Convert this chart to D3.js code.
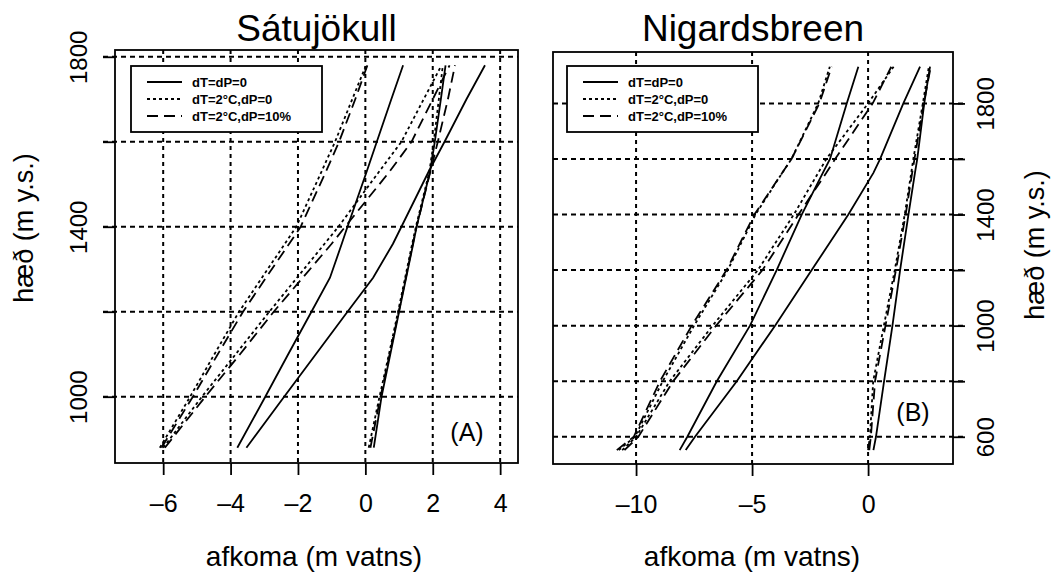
<!DOCTYPE html>
<html>
<head>
<meta charset="utf-8">
<script src="https://cdn.jsdelivr.net/npm/d3@7"></script>
<style>
  body { margin: 0; background: #fff; }
  #chart { width: 1063px; height: 572px; }
  text { font-family: "Liberation Sans", Arial, sans-serif; fill: #000; }
</style>
</head>
<body>
<div id="chart"></div>
<script>
// Legend labels (same for both panels)
const legendLabels = ["dT=dP=0", "dT=2°C,dP=0", "dT=2°C,dP=10%"];

// Sátujökull - elevation (m) and balance (m water)
const satElev    = [880, 1000, 1100, 1200, 1280, 1360, 1400, 1530, 1600, 1700, 1780];
const satSolid1  = [-3.80, -2.97, -2.29, -1.60, -1.05, -0.70, -0.53, 0.04, 0.34, 0.77, 1.12];
const satSolid2  = [-3.53, -2.41, -1.47, -0.53, 0.23, 0.82, 1.07, 1.88, 2.35, 3.00, 3.55];
const satSolid3  = [0.25, 0.48, 0.74, 1.00, 1.21, 1.42, 1.52, 1.92, 2.06, 2.24, 2.38];
const satDotted1 = [-6.10, -5.20, -4.48, -3.75, -3.07, -2.39, -2.05, -1.30, -0.90, -0.39, 0.02];
const satDotted2 = [-6.00, -4.85, -3.85, -2.85, -2.03, -1.21, -0.80, 0.41, 1.07, 1.73, 2.26];
const satDotted3 = [0.10, 0.42, 0.70, 0.97, 1.18, 1.39, 1.50, 1.90, 2.03, 2.18, 2.30];
const satDashed1 = [-6.05, -5.12, -4.38, -3.63, -2.95, -2.26, -1.92, -1.17, -0.78, -0.30, 0.06];
const satDashed2 = [-5.95, -4.75, -3.72, -2.72, -1.86, -1.00, -0.60, 0.72, 1.37, 2.00, 2.50];
const satDashed3 = [0.15, 0.45, 0.72, 0.99, 1.20, 1.41, 1.52, 1.93, 2.15, 2.45, 2.66];

// Nigardsbreen
const nigElev    = [552, 600, 800, 1000, 1200, 1400, 1550, 1600, 1800, 1932];
const nigSolid1  = [-8.12, -7.79, -6.52, -5.09, -3.94, -2.86, -1.95, -1.64, -0.92, -0.42];
const nigSolid2  = [-7.86, -7.46, -5.66, -4.01, -2.43, -0.85, 0.23, 0.52, 1.52, 2.24];
const nigSolid3  = [0.23, 0.34, 0.69, 1.05, 1.38, 1.74, 2.02, 2.12, 2.42, 2.67];
const nigDotted1 = [-10.75, -10.05, -8.85, -7.50, -6.05, -4.85, -3.70, -3.30, -2.15, -1.65];
const nigDotted2 = [-10.60, -10.00, -8.55, -6.70, -4.75, -3.20, -2.15, -1.80, 0.00, 1.10];
const nigDotted3 = [0.00, 0.08, 0.22, 0.68, 1.15, 1.58, 1.86, 1.95, 2.36, 2.62];
const nigDashed1 = [-10.83, -10.10, -8.97, -7.60, -6.10, -4.90, -3.70, -3.30, -2.10, -1.57];
const nigDashed2 = [-10.50, -9.90, -8.40, -6.55, -4.55, -3.00, -1.80, -1.42, 0.20, 1.00];
const nigDashed3 = [0.05, 0.12, 0.30, 0.75, 1.20, 1.62, 1.90, 2.00, 2.40, 2.70];

// Ticks
const satXTicks  = [-6, -4, -2, 0, 2, 4];
const satYTicks  = [1000, 1200, 1400, 1600, 1800];
const satYLabels = [1000, 1400, 1800];
const nigXTicks  = [-10, -5, 0];
const nigYTicks  = [600, 800, 1000, 1200, 1400, 1600, 1800];
const nigYLabels = [600, 1000, 1400, 1800];

const width = 1063;
const height = 572;

const svg = d3.select("#chart")
    .append("svg")
    .attr("width", width)
    .attr("height", height);

// line styles: solid / dotted / dashed
const dashes = [null, "3,3", "11,6"];

function drawPanel(p) {
    const xScale = d3.scaleLinear().domain(p.xDomain).range([p.box.x0, p.box.x1]);
    const yScale = d3.scaleLinear().domain(p.yDomain).range([p.box.y1, p.box.y0]);
    const tick = 12;

    // grid
    svg.append("g").selectAll("line")
        .data(p.xTicks)
        .join("line")
        .attr("x1", d => xScale(d)).attr("x2", d => xScale(d))
        .attr("y1", p.box.y0).attr("y2", p.box.y1)
        .attr("stroke", "#000").attr("stroke-width", 2)
        .attr("stroke-dasharray", "4,4");

    svg.append("g").selectAll("line")
        .data(p.yTicks)
        .join("line")
        .attr("x1", p.side == "left" ? p.box.x0 - tick : p.box.x0)
        .attr("x2", p.side == "left" ? p.box.x1 : p.box.x1 + tick)
        .attr("y1", d => yScale(d)).attr("y2", d => yScale(d))
        .attr("stroke", "#000").attr("stroke-width", 2)
        .attr("stroke-dasharray", "5,4");

    // curves
    const line = d3.line()
        .x(d => xScale(d[1]))
        .y(d => yScale(d[0]));

    p.series.forEach(function(s, i) {
        svg.append("path")
            .datum(p.elev.map((h, j) => [h, s[j]]))
            .attr("d", line)
            .attr("fill", "none")
            .attr("stroke", "#000")
            .attr("stroke-width", 1.8)
            .attr("stroke-dasharray", dashes[Math.floor(i / 3)]);
    });

    // box
    svg.append("rect")
        .attr("x", p.box.x0).attr("y", p.box.y0)
        .attr("width", p.box.x1 - p.box.x0)
        .attr("height", p.box.y1 - p.box.y0)
        .attr("fill", "none").attr("stroke", "#000").attr("stroke-width", 1.8);

    // x axis
    const xAxis = svg.append("g")
        .attr("transform", `translate(0,${p.box.y1})`)
        .call(d3.axisBottom(xScale).tickValues(p.xTicks).tickSize(tick).tickPadding(19)
            .tickFormat(d => d < 0 ? "\u2013" + Math.abs(d) : d));
    xAxis.select(".domain").remove();
    xAxis.selectAll("line").attr("stroke-width", 1.8);
    xAxis.selectAll("text")
        .attr("font-family", "Liberation Sans, Arial, sans-serif")
        .attr("font-size", 25);

    // y axis
    const yAx = p.side == "left" ? d3.axisLeft(yScale) : d3.axisRight(yScale);
    const yAxis = svg.append("g")
        .attr("transform", `translate(${p.side == "left" ? p.box.x0 : p.box.x1},0)`)
        .call(yAx.tickValues(p.yTicks).tickSize(tick)
            .tickFormat(d => p.yLabels.includes(d) ? d : ""));
    yAxis.select(".domain").remove();
    yAxis.selectAll("line").attr("stroke-width", 1.8);
    yAxis.selectAll("text")
        .attr("font-family", "Liberation Sans, Arial, sans-serif")
        .attr("font-size", 24)
        .attr("transform", "rotate(-90)")
        .attr("x", 0)
        .attr("dy", 0)
        .attr("y", p.side == "left" ? -28 : 41)
        .attr("text-anchor", "middle");

    // titles
    svg.append("text")
        .attr("x", (p.box.x0 + p.box.x1) / 2)
        .attr("y", 41)
        .attr("text-anchor", "middle")
        .attr("font-size", 37)
        .text(p.title);

    svg.append("text")
        .attr("x", p.xLabelX)
        .attr("y", 566)
        .attr("text-anchor", "middle")
        .attr("font-size", 28)
        .text("afkoma (m vatns)");

    svg.append("text")
        .attr("transform", `translate(${p.yLabelX},${p.yLabelY}) rotate(-90)`)
        .attr("text-anchor", "middle")
        .attr("font-size", 27)
        .text("hæð (m y.s.)");

    // panel letter
    svg.append("text")
        .attr("x", p.letterX).attr("y", p.letterY)
        .attr("text-anchor", "middle")
        .attr("font-size", 25)
        .text(p.letter);

    // legend
    const lg = svg.append("g").attr("transform", `translate(${p.legend.x},${p.legend.y})`);
    lg.append("rect")
        .attr("width", 191).attr("height", 66)
        .attr("fill", "#fff").attr("stroke", "#000").attr("stroke-width", 1.8);
    legendLabels.forEach(function(lab, i) {
        const yy = 16 + i * 17;
        lg.append("line")
            .attr("x1", 16).attr("x2", 51)
            .attr("y1", yy).attr("y2", yy)
            .attr("stroke", "#000").attr("stroke-width", 1.8)
            .attr("stroke-dasharray", dashes[i]);
        lg.append("text")
            .attr("x", 61).attr("y", yy)
            .attr("dy", "0.35em")
            .attr("font-size", 13)
            .attr("font-weight", "bold")
            .text(lab);
    });
}

drawPanel({
    title: "Sátujökull",
    letter: "(A)", letterX: 467, letterY: 441,
    box: {x0: 115, x1: 518, y0: 50, y1: 463},
    xDomain: [-7.43, 4.53], yDomain: [844, 1816],
    xTicks: satXTicks, yTicks: satYTicks, yLabels: satYLabels,
    side: "left",
    xLabelX: 314, yLabelX: 33, yLabelY: 228,
    legend: {x: 131, y: 66},
    elev: satElev,
    series: [satSolid1, satSolid2, satSolid3, satDotted1, satDotted2, satDotted3, satDashed1, satDashed2, satDashed3]
});

drawPanel({
    title: "Nigardsbreen",
    letter: "(B)", letterX: 913, letterY: 421,
    box: {x0: 553, x1: 953, y0: 52, y1: 464},
    xDomain: [-13.58, 3.66], yDomain: [502, 1985],
    xTicks: nigXTicks, yTicks: nigYTicks, yLabels: nigYLabels,
    side: "right",
    xLabelX: 752, yLabelX: 1044, yLabelY: 245,
    legend: {x: 567, y: 66},
    elev: nigElev,
    series: [nigSolid1, nigSolid2, nigSolid3, nigDotted1, nigDotted2, nigDotted3, nigDashed1, nigDashed2, nigDashed3]
});
</script>
</body>
</html>
